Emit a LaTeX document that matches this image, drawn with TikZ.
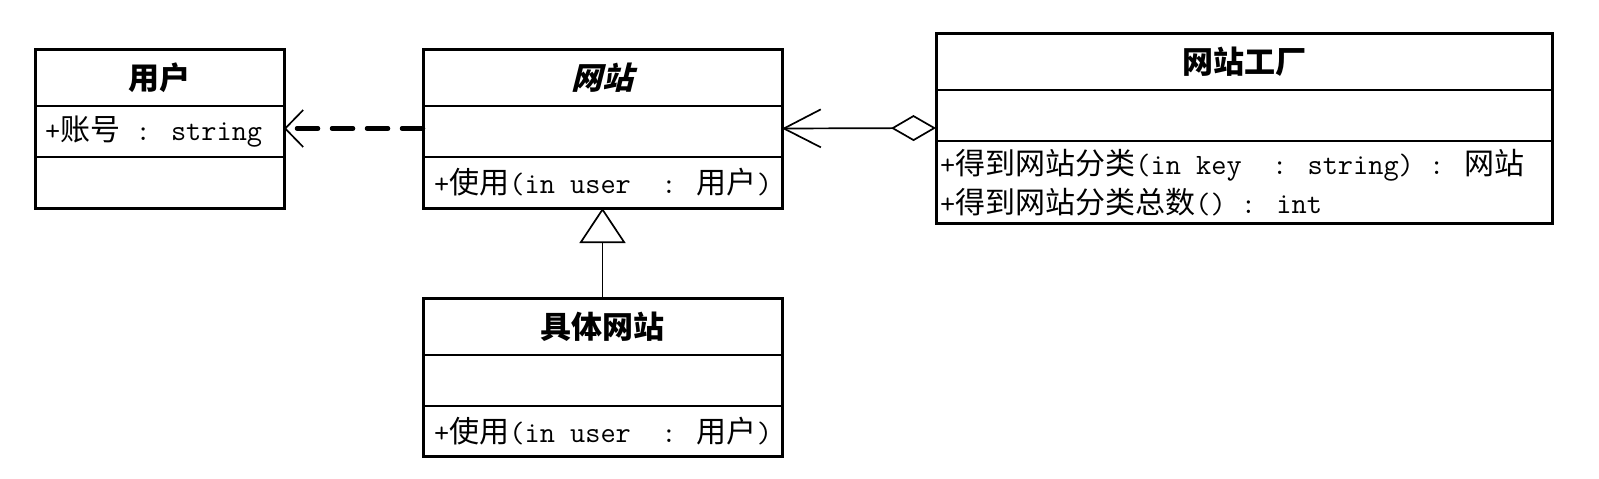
\documentclass[tikz,border=0pt]{standalone}
\usepackage{fontspec}
\newfontfamily\cjk{Noto Sans CJK SC}
\newfontfamily\cjkit[FakeSlant=0.25]{Noto Sans CJK SC}
\usetikzlibrary{arrows.meta}
\newcommand\zh[1]{{\cjk\fontsize{30}{32}\selectfont #1}}
\newcommand\ttl[1]{{\cjk\bfseries\fontsize{31}{34}\selectfont #1}}
\newcommand\ttlit[1]{{\cjkit\bfseries\fontsize{31}{34}\selectfont #1}}
\begin{document}
\begin{tikzpicture}[x=1pt,y=-1pt,
  classbox/.style={draw, line width=3pt, anchor=north west, inner sep=0pt, outer sep=0pt},
  sepline/.style={line width=2.4pt},
  body/.style={anchor=west, inner sep=0pt, font=\ttfamily\fontsize{29.5}{32}\selectfont},
  title/.style={inner sep=0pt},
  conn/.style={line width=1.7pt}]
\useasboundingbox (0,0) rectangle (1599,479);
% classes
\node[classbox, minimum width=249pt, minimum height=159pt] (user) at (35,49) {};
\node[classbox, minimum width=359pt, minimum height=159pt] (site) at (423,49) {};
\node[classbox, minimum width=616pt, minimum height=190pt] (factory) at (936,33) {};
\node[classbox, minimum width=359pt, minimum height=158pt] (concrete) at (423,298) {};
% compartments
\draw[sepline] (35,106) -- (284,106);
\draw[sepline] (35,157) -- (284,157);
\draw[sepline] (423,106) -- (782,106);
\draw[sepline] (423,157) -- (782,157);
\draw[sepline] (936,90) -- (1552,90);
\draw[sepline] (936,141) -- (1552,141);
\draw[sepline] (423,355) -- (782,355);
\draw[sepline] (423,406) -- (782,406);
% texts
\node[title] (userT) at (159.5,77.5) {\ttl{用户}};
\node[body] (userA) at (45,131.5) {+\zh{账号} : string};
\node[title] (siteT) at (602.5,77.5) {\ttlit{网站}};
\node[body] (siteM) at (434,182.5) {+\zh{使用}(in user~~: \zh{用户})};
\node[title] (factT) at (1244,61.5) {\ttl{网站工厂}};
\node[body] (factM1) at (940,165) {+\zh{得到网站分类}(in key~~: string) : \zh{网站}};
\node[body] (factM2) at (940,202) {+\zh{得到网站分类总数}() : int};
\node[title] (concT) at (602.5,326.5) {\ttl{具体网站}};
\node[body] (concM) at (434,431) {+\zh{使用}(in user~~: \zh{用户})};
% connectors
\draw[line width=4.5pt, line cap=round, dash pattern=on 21pt off 14pt,
  -{Straight Barb[length=18pt, width=37pt, line width=1.7pt]}] (site.west) -- (user.east);
\draw[conn, {Diamond[open, length=45pt, width=26pt, line width=1.7pt]}-{Straight Barb[length=37pt, width=38pt, line width=1.7pt]}] (factory.west) -- (site.east);
\draw[conn, -{Triangle[open, length=35pt, width=46pt, line width=1.7pt]}] (concrete.north) -- (site.south);
\end{tikzpicture}
\end{document}
